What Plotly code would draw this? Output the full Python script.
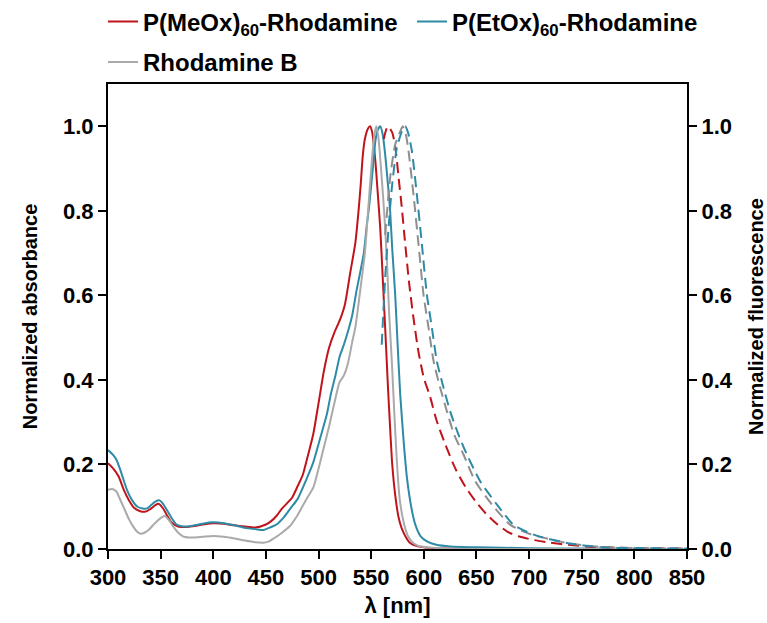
import plotly.graph_objects as go

# ---------------- data ----------------
meox_abs_x = [300, 305, 310, 315, 320, 325, 330, 335, 340, 345, 348, 352, 356, 360, 365, 370, 380, 390, 400, 410,
              420, 430, 440, 450, 455, 460, 465, 470, 475, 480, 485, 490, 495, 500, 505, 510, 515, 520, 525, 530,
              535, 538, 540, 542, 544, 547, 549, 551, 554, 556, 558.6, 561, 563.3, 566, 568, 570, 572.8, 576, 579,
              583, 587, 592, 600, 610, 620, 650, 850]
meox_abs_y = [0.203, 0.19, 0.172, 0.14, 0.115, 0.097, 0.09, 0.088, 0.094, 0.104, 0.107, 0.097, 0.08, 0.064, 0.055,
              0.052, 0.054, 0.058, 0.061, 0.06, 0.056, 0.053, 0.051, 0.058, 0.066, 0.078, 0.095, 0.108, 0.122,
              0.148, 0.175, 0.222, 0.272, 0.345, 0.42, 0.476, 0.512, 0.54, 0.578, 0.652, 0.725, 0.8, 0.86, 0.93,
              0.97, 0.995, 1.0, 0.985, 0.917, 0.85, 0.759, 0.64, 0.523, 0.38, 0.286, 0.2, 0.128, 0.075, 0.049,
              0.028, 0.014, 0.008, 0.004, 0.002, 0.001, 0.0, 0.0]

etox_abs_x = [300, 305, 308, 312, 318, 323, 328, 333, 337, 341, 345, 349, 352, 356, 360, 365, 370, 378, 390, 400,
              410, 420, 430, 440, 448, 455, 460, 467, 473, 480, 489, 495, 502, 508, 512, 516, 520, 524, 528, 532,
              536, 540, 543, 546, 548, 551, 554, 556, 558.6, 561, 563.3, 566, 568, 570, 572.8, 575, 577.6, 581,
              584, 588, 592, 597, 603, 612, 625, 650, 700, 750, 850]
etox_abs_y = [0.234, 0.222, 0.211, 0.185, 0.14, 0.115, 0.1, 0.096, 0.096, 0.104, 0.112, 0.115, 0.108, 0.092, 0.075,
              0.058, 0.054, 0.054, 0.06, 0.063, 0.061, 0.056, 0.05, 0.047, 0.045, 0.052, 0.058, 0.075, 0.095,
              0.118, 0.168, 0.205, 0.266, 0.32, 0.37, 0.41, 0.455, 0.483, 0.515, 0.553, 0.61, 0.66, 0.7, 0.77,
              0.81, 0.885, 0.965, 0.99, 1.0, 0.98, 0.933, 0.86, 0.8, 0.71, 0.602, 0.49, 0.365, 0.25, 0.168, 0.1,
              0.057, 0.03, 0.018, 0.01, 0.006, 0.004, 0.002, 0.001, 0.0]

rhob_abs_x = [300, 304, 308, 311, 315, 320, 324, 328, 331, 335, 339, 343, 347, 351, 354, 358, 362, 367, 372, 380,
              390, 400, 410, 420, 430, 440, 448, 453, 458, 465, 473, 480, 489, 495, 500, 505, 510, 515, 520, 524,
              528, 532, 535, 539, 544, 547.5, 550.6, 553, 555, 557, 560, 562.5, 565, 567, 569.6, 572, 574.4, 577,
              580.7, 585, 590, 595, 603, 615, 640, 850]
rhob_abs_y = [0.14, 0.142, 0.136, 0.12, 0.098, 0.07, 0.053, 0.04, 0.036, 0.039, 0.046, 0.057, 0.067, 0.075, 0.078,
              0.068, 0.053, 0.038, 0.029, 0.027, 0.029, 0.031, 0.029, 0.025, 0.02, 0.016, 0.015, 0.018, 0.026,
              0.038, 0.055, 0.08, 0.12, 0.145, 0.19, 0.24, 0.29, 0.345, 0.395, 0.41, 0.44, 0.49, 0.525, 0.6, 0.7,
              0.815, 0.917, 0.98, 1.0, 0.97, 0.878, 0.79, 0.68, 0.56, 0.444, 0.32, 0.207, 0.12, 0.065, 0.03,
              0.014, 0.007, 0.004, 0.002, 0.0, 0.0]

meox_fl_x = [562, 564, 566, 570, 573, 576, 579, 582, 586, 590, 595, 600, 606, 612, 620, 630, 640, 650, 660, 670,
             680, 690, 705, 720, 736, 760, 800, 850]
meox_fl_y = [0.97, 0.99, 1.0, 0.985, 0.95, 0.88, 0.81, 0.73, 0.63, 0.55, 0.465, 0.405, 0.36, 0.305, 0.25, 0.19,
             0.145, 0.11, 0.081, 0.058, 0.04, 0.03, 0.021, 0.015, 0.01, 0.005, 0.002, 0.001]

etox_fl_x = [560, 563.3, 566.5, 569.6, 574.4, 579.2, 582.3, 585, 588.7, 593.4, 598.2, 602.9, 607.7, 612.4, 618.8,
             625.1, 633, 641, 653.6, 669.5, 685.3, 704.3, 736, 768, 800, 850]
etox_fl_y = [0.483, 0.641, 0.759, 0.854, 0.949, 0.988, 1.0, 0.985, 0.941, 0.838, 0.72, 0.602, 0.523, 0.444, 0.381,
             0.325, 0.27, 0.223, 0.16, 0.105, 0.057, 0.034, 0.014, 0.004, 0.002, 0.001]

rhob_fl_x = [563.3, 568, 572.8, 577.6, 580, 583, 585.5, 590.2, 595, 599.7, 604.5, 609.3, 615.6, 622, 628.9, 637.8,
             648.9, 664.7, 682.2, 700, 736, 768, 800, 850]
rhob_fl_y = [0.743, 0.878, 0.957, 0.988, 1.0, 0.98, 0.941, 0.838, 0.72, 0.602, 0.523, 0.444, 0.381, 0.325, 0.27,
             0.223, 0.16, 0.105, 0.057, 0.036, 0.014, 0.005, 0.002, 0.001]

x_ticks = [300, 350, 400, 450, 500, 550, 600, 650, 700, 750, 800, 850]
y_ticks = [0.0, 0.2, 0.4, 0.6, 0.8, 1.0]

# ---------------- style ----------------
RED = "#c0141c"
TEAL = "#2e8ba6"
GRAY = "#aaaaaa"
GRAY_D = "#8f8f8f"
FONT = "Liberation Sans, Arial, sans-serif"
DASH = "11px,6px"

fig = go.Figure()

def solid(x, y, name, color, legend):
    fig.add_trace(go.Scatter(x=x, y=y, mode="lines", name=name, legend=legend,
                             line=dict(color=color, width=2, shape="spline", smoothing=0.6)))

def dashed(x, y, color):
    fig.add_trace(go.Scatter(x=x, y=y, mode="lines", showlegend=False, yaxis="y2",
                             line=dict(color=color, width=2, dash=DASH, shape="spline", smoothing=0.6)))

solid(meox_abs_x, meox_abs_y, "P(MeOx)<sub>60</sub>-Rhodamine", RED, "legend")
solid(etox_abs_x, etox_abs_y, "P(EtOx)<sub>60</sub>-Rhodamine", TEAL, "legend2")
solid(rhob_abs_x, rhob_abs_y, "Rhodamine B", GRAY, "legend3")
dashed(meox_fl_x, meox_fl_y, RED)
dashed(rhob_fl_x, rhob_fl_y, GRAY_D)
dashed(etox_fl_x, etox_fl_y, TEAL)

tickfont = dict(family=FONT, size=22, color="black", weight="bold")
titlefont = dict(family=FONT, size=20, color="black", weight="bold")
legfont = dict(family=FONT, size=24, color="black", weight="bold")

axis_common = dict(showline=True, linecolor="black", linewidth=2, ticks="outside", ticklen=8,
                   tickwidth=2, tickcolor="black", showgrid=False, zeroline=False, tickfont=tickfont)

def leg(x, y):
    return dict(orientation="h", x=x, y=y, yref="container", xanchor="left", yanchor="middle",
                font=legfont, bgcolor="rgba(0,0,0,0)", itemwidth=30)

fig.update_layout(
    width=767, height=623,
    margin=dict(l=108, r=80, t=84, b=74, autoexpand=False),
    paper_bgcolor="white", plot_bgcolor="white",
    font=dict(family=FONT, color="black"),
    xaxis=dict(range=[300, 850], tickvals=x_ticks, ticktext=[str(v) for v in x_ticks],
               title=dict(text="λ [nm]", font=dict(family=FONT, size=22, color="black", weight="bold"),
                          standoff=8), mirror=True, **axis_common),
    yaxis=dict(range=[0, 1.1], tickvals=y_ticks, ticktext=[f"{v:.1f}" for v in y_ticks],
               title=dict(text="Normalized absorbance", font=titlefont, standoff=20), **axis_common),
    yaxis2=dict(range=[0, 1.1], tickvals=y_ticks, ticktext=[f"{v:.1f}" for v in y_ticks],
                overlaying="y", side="right",
                title=dict(text="Normalized fluorescence", font=titlefont, standoff=20), **axis_common),
    legend=leg(-0.0086, 0.965),
    legend2=leg(0.525, 0.965),
    legend3=leg(-0.0086, 0.9),
    showlegend=True,
)

fig.write_html("out.html")
